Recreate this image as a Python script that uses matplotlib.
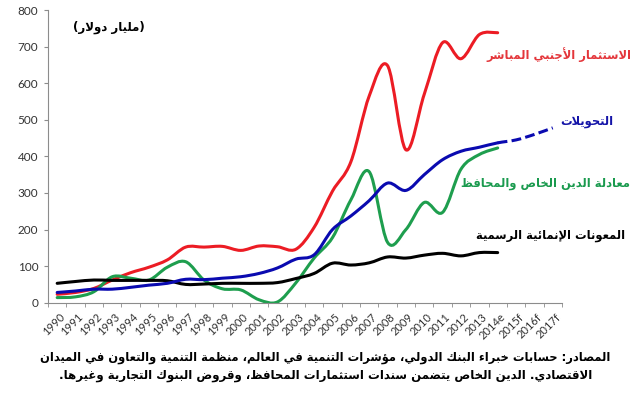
import numpy as np
import matplotlib
matplotlib.use("Agg")
import matplotlib.pyplot as plt
from matplotlib.path import Path
from matplotlib.patches import PathPatch
from matplotlib.transforms import ScaledTranslation

# years on the category axis
years = ['1990', '1991', '1992', '1993', '1994', '1995', '1996', '1997', '1998', '1999',
         '2000', '2001', '2002', '2003', '2004', '2005', '2006', '2007', '2008', '2009',
         '2010', '2011', '2012', '2013', '2014e', '2015f', '2016f', '2017f']

# billions of dollars
fdi = [23, 28, 39, 62, 82, 97, 117, 152, 152, 154, 143, 155, 153, 146, 206, 305, 385, 565,
       648, 418, 570, 711, 667, 733, 738]
remittances = [28, 32, 37, 37, 42, 48, 53, 64, 63, 67, 71, 80, 95, 119, 131, 200, 237, 279,
               327, 307, 350, 391, 414, 425, 437, 445, 460, 478]
private_debt = [14, 16, 30, 71, 67, 62, 97, 112, 62, 38, 35, 8, 2, 54, 122, 178, 281, 358,
                165, 200, 274, 247, 365, 405, 423]
oda = [53, 58, 62, 61, 61, 61, 60, 50, 51, 53, 53, 53, 55, 66, 80, 108, 103, 109, 125, 122,
       130, 135, 128, 137, 137]

unit_txt = '(مليار دولار)'
fdi_txt = 'الاستثمار الأجنبي المباشر'
remit_txt = 'التحويلات'
debt_txt = 'معادلة الدين الخاص والمحافظ'
oda_txt = 'المعونات الإنمائية الرسمية'
note1 = 'المصادر: حسابات خبراء البنك الدولي، مؤشرات التنمية في العالم، منظمة التنمية والتعاون في الميدان'
note2 = 'الاقتصادي. الدين الخاص يتضمن سندات استثمارات المحافظ، وقروض البنوك التجارية وغيرها.'

# matplotlib has no arabic shaping, so pick presentation forms by hand
FORMS = {
    'ء': (0xFE80, 1), 'آ': (0xFE81, 2), 'أ': (0xFE83, 2), 'ؤ': (0xFE85, 2), 'إ': (0xFE87, 2),
    'ئ': (0xFE89, 4), 'ا': (0xFE8D, 2), 'ب': (0xFE8F, 4), 'ة': (0xFE93, 2), 'ت': (0xFE95, 4),
    'ث': (0xFE99, 4), 'ج': (0xFE9D, 4), 'ح': (0xFEA1, 4), 'خ': (0xFEA5, 4), 'د': (0xFEA9, 2),
    'ذ': (0xFEAB, 2), 'ر': (0xFEAD, 2), 'ز': (0xFEAF, 2), 'س': (0xFEB1, 4), 'ش': (0xFEB5, 4),
    'ص': (0xFEB9, 4), 'ض': (0xFEBD, 4), 'ط': (0xFEC1, 4), 'ظ': (0xFEC5, 4), 'ع': (0xFEC9, 4),
    'غ': (0xFECD, 4), 'ف': (0xFED1, 4), 'ق': (0xFED5, 4), 'ك': (0xFED9, 4), 'ل': (0xFEDD, 4),
    'م': (0xFEE1, 4), 'ن': (0xFEE5, 4), 'ه': (0xFEE9, 4), 'و': (0xFEED, 2), 'ى': (0xFEEF, 2),
    'ي': (0xFEF1, 4),
}
LAM_ALEF = {'آ': 0xFEF5, 'أ': 0xFEF7, 'إ': 0xFEF9, 'ا': 0xFEFB}


def ar(text):
    out = []
    i = 0
    prev_joins = False
    while i < len(text):
        c = text[i]
        if c not in FORMS:
            out.append(c)
            prev_joins = False
            i += 1
            continue
        if c == 'ل' and i + 1 < len(text) and text[i + 1] in LAM_ALEF:
            out.append(chr(LAM_ALEF[text[i + 1]] + (1 if prev_joins else 0)))
            prev_joins = False
            i += 2
            continue
        base, nf = FORMS[c]
        joins_next = nf == 4 and i + 1 < len(text) and text[i + 1] in FORMS
        if nf == 1:
            code = base
        elif prev_joins and joins_next:
            code = base + 3
        elif prev_joins:
            code = base + 1
        elif joins_next:
            code = base + 2
        else:
            code = base
        out.append(chr(code))
        prev_joins = joins_next
        i += 1
    s = ''.join(out)[::-1]
    return s.translate(str.maketrans('()', ')('))


def smooth(ax, ys, i0, i1, **kw):
    # excel style smoothed line: bezier segments through the points
    p = np.column_stack([np.arange(len(ys)), ys]).astype(float)
    n = len(p)
    verts = [p[i0]]
    codes = [Path.MOVETO]
    for i in range(i0, i1):
        a, b = p[max(i - 1, 0)], p[i]
        c, d = p[i + 1], p[min(i + 2, n - 1)]
        verts += [b + (c - a) / 6, c - (d - b) / 6, c]
        codes += [Path.CURVE4] * 3
    ax.add_patch(PathPatch(Path(verts, codes), fill=False, **kw))


plt.rcParams['font.family'] = ['Lato', 'DejaVu Sans']

fig = plt.figure(figsize=(6.4, 3.96), dpi=100)
ax = fig.add_axes([0.075, 0.2356, 0.803, 0.739])

lw = 2.2
smooth(ax, fdi, 0, len(fdi) - 1, ec='#EC1C24', lw=lw, capstyle='round', joinstyle='round')
smooth(ax, private_debt, 0, len(private_debt) - 1, ec='#1E9E4E', lw=lw, capstyle='round')
smooth(ax, oda, 0, len(oda) - 1, ec='#000000', lw=lw, capstyle='round')
smooth(ax, remittances, 0, 24, ec='#0A0AB0', lw=lw, capstyle='round')
smooth(ax, remittances, 24, len(remittances) - 1, ec='#0A0AB0', lw=lw,
       linestyle=(0, (3.2, 1.4)))

ax.set_xlim(-0.5, 27.5)
ax.set_ylim(0, 800)
ax.set_yticks(range(0, 801, 100))
ax.set_xticks(range(len(years)))
ax.set_xticklabels(years, rotation=45, ha='right', va='center', rotation_mode='anchor',
                   fontsize=8, color='#333333')
ax.set_xticks(np.arange(-0.5, 28, 1), minor=True)
ax.tick_params(axis='x', which='major', length=0, pad=9)
ax.tick_params(axis='x', which='minor', length=3, color='#8c8c8c', direction='out')
ax.tick_params(axis='y', length=3, color='#8c8c8c', labelsize=8.5, labelcolor='#333333', pad=4)
for lab in ax.get_xticklabels():
    lab.set_transform(lab.get_transform() + ScaledTranslation(6 / 100, 0, fig.dpi_scale_trans))

for s in ['top', 'right']:
    ax.spines[s].set_visible(False)
for s in ['left', 'bottom']:
    ax.spines[s].set_color('#8c8c8c')
    ax.spines[s].set_linewidth(0.8)

W, H = 640, 396
AR = ['DejaVu Sans']


def label(x, y, txt, color, size, ha='right'):
    fig.text(x / W, 1 - y / H, ar(txt), color=color, fontsize=size, fontweight='bold',
             ha=ha, va='center', family=AR)


label(109, 27, unit_txt, 'black', 8.5, ha='center')
label(631, 55, fdi_txt, '#E4363B', 8.3)
label(613, 122, remit_txt, '#1414A8', 8.3)
label(630, 183, debt_txt, '#1A9A4E', 8.3)
label(625, 236, oda_txt, 'black', 8.3)
label(325, 358, note1, 'black', 8.3, ha='center')
label(326, 375, note2, 'black', 8.5, ha='center')

fig.savefig('out.png', dpi=100)
